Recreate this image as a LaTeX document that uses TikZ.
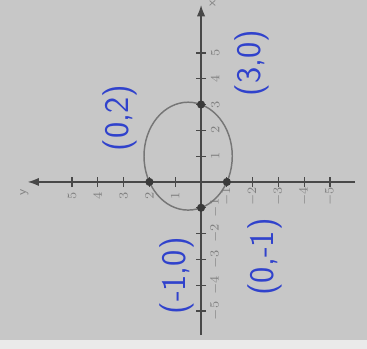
\documentclass[tikz,border=0pt]{standalone}
\usetikzlibrary{arrows.meta}

\definecolor{paper}{RGB}{199,199,199}
\definecolor{paperedge}{RGB}{234,234,234}
\definecolor{pencil}{RGB}{72,72,72}
\definecolor{ink}{RGB}{48,66,204}

\begin{document}
\begin{tikzpicture}[
    x=0.5cm, y=0.5cm,
    font=\sffamily\scriptsize,
    axis/.style={draw=pencil, line width=0.8pt},
    tick/.style={draw=pencil, line width=0.7pt},
    ticklabel/.style={text=pencil!70, inner sep=0pt},
    curve/.style={draw=pencil!75, line width=0.8pt},
    dot/.style={circle, fill=pencil!80!black, inner sep=0pt, minimum size=4.5pt},
    hand/.style={text=ink, font=\sffamily\fontsize{19}{19}\selectfont, inner sep=0pt}
]

    % Feuille scannee
    \fill[paper] (-7.79,-6.47) rectangle (6.43,7.05);
    \fill[paperedge] (-7.79,-6.47) rectangle (6.43,-6.12);
    \useasboundingbox (-7.79,-6.47) rectangle (6.43,7.05);

    \begin{scope}[rotate=90, transform shape]

    % Axes
    \coordinate (xmin) at (-5.93,0);
    \coordinate (xmax) at (6.86,0);
    \coordinate (ymin) at (0,-5.97);
    \coordinate (ymax) at (0,6.72);
    \draw[axis, -{Latex[length=2.2mm, width=1.6mm]}] (xmin) -- (xmax);
    \draw[axis, -{Latex[length=2.2mm, width=1.6mm]}] (ymin) -- (ymax);
    \node[ticklabel] (xlab) at (6.9,-0.45) {x};
    \node[ticklabel] (ylab) at (-0.4,6.85) {y};

    % Graduations
    \foreach \k in {-5,-4,-3,-2,-1,1,2,3,4,5} {
        \draw[tick] (\k,-0.2) -- (\k,0.2);
        \draw[tick] (-0.2,\k) -- (0.2,\k);
        \node[ticklabel] at (\k,-0.55) {$\k$};
        \node[ticklabel] at (-0.55,\k) {$\k$};
    }

    % Ellipse
    \draw[curve] (1,0.5) ellipse [x radius=2.09, y radius=1.71];

    % Points d'intersection
    \node[dot] (p30) at (3,0) {};
    \node[dot] (pm10) at (-1,0) {};
    \node[dot] (p02) at (0,2) {};
    \node[dot] (p0m1) at (0,-1) {};

    % Annotations manuscrites
    \node[hand] (l02) at (2.48,3.14) {(0,2)};
    \node[hand] (l30) at (4.61,-1.98) {(3,0)};
    \node[hand] (lm10) at (-3.64,0.93) {(-1,0)};
    \node[hand] (l0m1) at (-2.91,-2.48) {(0,-1)};

    \end{scope}

\end{tikzpicture}
\end{document}
